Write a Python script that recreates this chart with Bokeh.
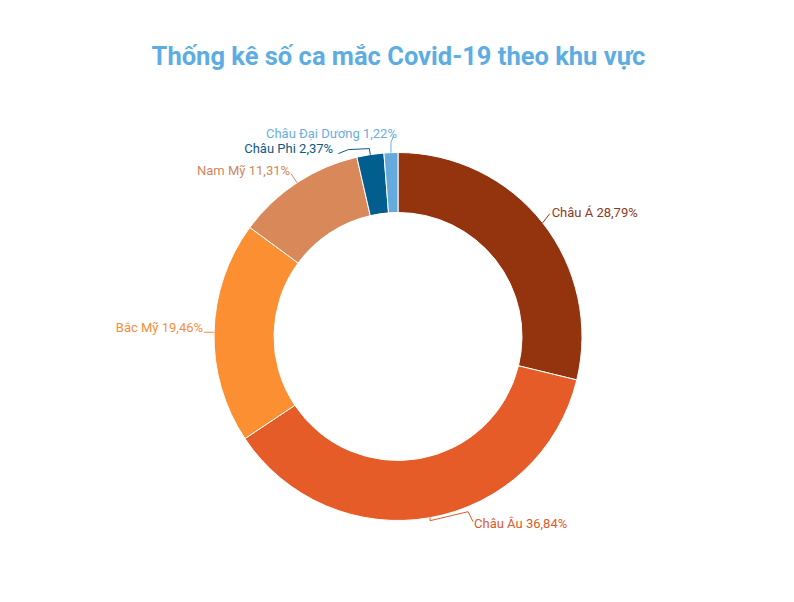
import math
from bokeh.plotting import figure
from bokeh.models import Range1d
from bokeh.core.properties import value
from bokeh.embed import file_html
from bokeh.resources import INLINE

# ---- data ----
regions = ["Châu Á", "Châu Âu", "Bắc Mỹ", "Nam Mỹ", "Châu Phi", "Châu Đại Dương"]
shares = [28.79, 36.84, 19.46, 11.31, 2.37, 1.22]
label_texts = ["Châu Á 28,79%", "Châu Âu 36,84%", "Bắc Mỹ 19,46%", "Nam Mỹ 11,31%",
               "Châu Phi  2,37%", "Châu Đại Dương 1,22%"]
colors = ["#94340F", "#E55C28", "#FD8F33", "#D88859", "#015E8F", "#64AADC"]
label_colors = ["#8E3A22", "#E05A2C", "#F58E3C", "#D0875E", "#0D5A86", "#6AAEDD"]
title_text = "Thống kê số ca mắc Covid-19 theo khu vực"

# ---- layout (page pixels) ----
W, H = 778, 586
CX_PAGE, CY_PAGE = 397.5, 336.0
R_OUT, R_IN = 184.0, 124.0

def fx(px):
    return px

def fy(py):
    return H - py

# leader line offsets (page px, relative to outer-edge anchor), text offset, alignment
leaders = [
    ([(0, 0), (7, -9)], (9, -10), "left"),
    ([(0, 0), (0, 3), (38, -6), (43, 4)], (44, 6), "left"),
    ([(0, 0), (-10, 0)], (-11, -5), "right"),
    ([(0, 0), (-6, -9)], (-7, -12), "right"),
    ([(0, 0), (-1, -6), (-22, -5), (-32, -1)], (-34, -6), "right"),
    ([(0, 0), (0, -10), (3, -18)], (6, -19), "right"),
]

p = figure(width=W, height=H, output_backend="svg", toolbar_location=None,
           x_range=Range1d(0, W), y_range=Range1d(0, H), min_border=0,
           outline_line_color=None)
p.axis.visible = False
p.grid.visible = False
p.background_fill_color = "white"
p.border_fill_color = "white"

total = sum(shares)
cx, cy = fx(CX_PAGE), fy(CY_PAGE)
cum = 0.0
starts, ends, mids = [], [], []
for s in shares:
    a0 = math.pi / 2 - cum / total * 2 * math.pi
    cum += s
    a1 = math.pi / 2 - cum / total * 2 * math.pi
    starts.append(a0)
    ends.append(a1)
    mids.append((a0 + a1) / 2)

p.annular_wedge(x=[cx] * len(shares), y=[cy] * len(shares), inner_radius=R_IN, outer_radius=R_OUT,
                start_angle=starts, end_angle=ends, direction="clock",
                fill_color=colors, line_color="white", line_width=1)

for i, m in enumerate(mids):
    ax_page = CX_PAGE + R_OUT * math.cos(m)
    ay_page = CY_PAGE - R_OUT * math.sin(m)
    pts, toff, align = leaders[i]
    xs = [fx(ax_page + dx) for dx, dy in pts]
    ys = [fy(ay_page + dy) for dx, dy in pts]
    p.line(xs, ys, line_color=label_colors[i], line_width=1)
    p.text(x=[fx(ax_page + toff[0])], y=[fy(ay_page + toff[1])], text=[label_texts[i]],
           text_align=align, text_baseline="middle", text_color=label_colors[i],
           text_font=value("Roboto"), text_font_size="13px")

p.text(x=[fx(398)], y=[fy(55)], text=[title_text], text_align="center", text_baseline="middle",
       text_color="#5DADE2", text_font=value("Roboto"), text_font_style="bold",
       text_font_size="25.5px")

open("out.html", "w").write(file_html(p, INLINE))
